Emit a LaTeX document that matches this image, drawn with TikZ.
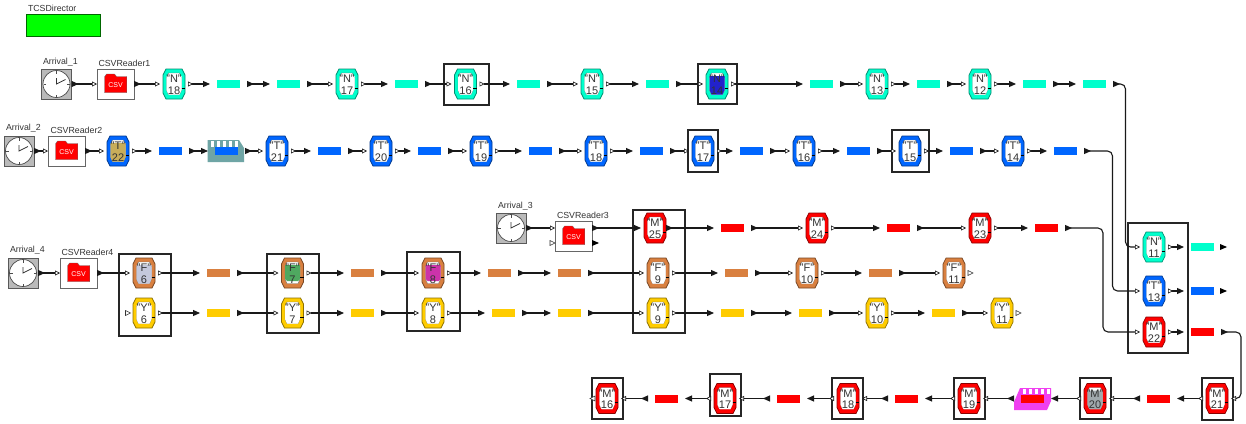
\documentclass[tikz,border=0pt]{standalone}
\usepackage{fontspec}
\setmainfont{Liberation Sans}
\usetikzlibrary{arrows.meta,calc}
\definecolor{cN}{HTML}{00FFCC}
\definecolor{cT}{HTML}{0066FF}
\definecolor{cM}{HTML}{FF0000}
\definecolor{cF}{HTML}{D98040}
\definecolor{cY}{HTML}{FFCC00}
\definecolor{txt}{HTML}{333333}
\definecolor{tan22}{HTML}{C8AD5A}
\definecolor{blue14}{HTML}{2222CC}
\definecolor{lav6}{HTML}{C4C8DC}
\definecolor{green7}{HTML}{4FA860}
\definecolor{mag8}{HTML}{CC33AA}
\definecolor{gray20}{HTML}{A0A8AC}
\definecolor{tealbuf}{HTML}{6FA5A5}
\definecolor{magbuf}{HTML}{F040F0}
\tikzset{
 every node/.style={inner sep=0pt,outer sep=0pt},
 tile anchor/.style={minimum width=22pt,minimum height=30pt},
 tile label/.style={align=center,text=txt,font=\fontsize{11}{11.5}\selectfont},
 frame box/.style={draw=black!85,line width=2pt},
 qbarstyle/.style={minimum width=23pt,minimum height=8pt},
 caption/.style={font=\fontsize{8.8}{10}\selectfont,text=txt,anchor=west},
 wire/.style={line width=1.1pt,black!90},
 barbar/.style={wire,{Triangle[length=7pt,width=6pt,reversed]}-{Triangle[length=7pt,width=6pt]},shorten <=7pt,shorten >=7pt},
 tilebar/.style={wire,{Triangle[open,length=5pt,width=5pt,fill=white,reversed,line width=.6pt]}-{Triangle[length=7pt,width=6pt]},shorten <=3pt,shorten >=7pt},
 bartile/.style={wire,{Triangle[length=7pt,width=6pt,reversed]}-{Triangle[open,length=5pt,width=5pt,fill=white,line width=.6pt]},shorten <=7pt,shorten >=3pt},
 srcbox/.style={wire,{Triangle[length=7pt,width=6pt,reversed]}-{Triangle[open,length=5pt,width=5pt,fill=white,line width=.6pt]}},
 srctile/.style={srcbox,shorten >=3pt},
 solid conn/.style={wire,{Triangle[length=7pt,width=6pt,reversed]}-{Triangle[length=7pt,width=6pt]}},
 bend wire/.style={rounded corners=5pt},
 lone port/.style={draw=black!80,fill=white,line width=.6pt},
 lone head/.style={fill=black},
}
% [fill bottom], name, x, y, label, number, colour, inner fill
\newcommand\tilebox[8][10.5]{%
 \node[tile anchor] (#2) at (#3,#4) {};
 \path[fill=#7,draw=#7!55!black,line width=.7pt] (#3-8,#4-15) -- (#3+8,#4-15) -- (#3+11,#4-9) -- (#3+11,#4+9) -- (#3+8,#4+15) -- (#3-8,#4+15) -- (#3-11,#4+9) -- (#3-11,#4-9) -- cycle;
 \path[fill=white,draw=black!55,line width=.4pt] (#3-5.5,#4-11) -- (#3+5.5,#4-11) -- (#3+7.5,#4-6) -- (#3+7.5,#4+6) -- (#3+5.5,#4+10.5) -- (#3-5.5,#4+10.5) -- (#3-7.5,#4+6) -- (#3-7.5,#4-6) -- cycle;
 \fill[#8] (#3-7.5,#4-8) -- (#3+7.5,#4-8) -- (#3+7.5,#4+6) -- (#3+5.5,#4+#1) -- (#3-5.5,#4+#1) -- (#3-7.5,#4+6) -- cycle;
 \node[tile label] (#2t) at (#3,#4+.5) {\rule{0pt}{7.8pt}#5\\#6};
 \draw[line width=.8pt,black] (#3+7.5,#4+4) -- (#3+11,#4+4);
}
\newcommand\qbar[4]{\node[qbarstyle,fill=#4] (#1) at (#2+11.5,#3) {};}
\newcommand\clockbox[3]{%
 \node[minimum width=30pt,minimum height=30pt,fill=black!27,draw=black!65,line width=.8pt] (#1) at (#2,#3) {};
 \draw[fill=white,draw=black!70,line width=.7pt] (#2,#3) circle (13.5pt);
 \draw[line width=.6pt,black!70] (#2,#3-13) -- (#2,#3-10.5) (#2,#3+13) -- (#2,#3+10.5) (#2-13,#3) -- (#2-10.5,#3) (#2+13,#3) -- (#2+10.5,#3);
 \draw[line width=.8pt,black!80] (#2,#3-6) -- (#2,#3) -- (#2+9,#3-4.5);
}
\newcommand\csvbox[3]{%
 \node[minimum width=37pt,minimum height=30pt,fill=white,draw=black!60,line width=.8pt] (#1) at (#2,#3) {};
 \fill[red,draw=black!60,line width=.3pt] (#2-11,#3+8.7) -- (#2-11,#3-7) -- (#2-9,#3-10) -- (#2-1,#3-10) -- (#2+1,#3-7.5) -- (#2+11.3,#3-7.5) -- (#2+11.3,#3+8.7) -- cycle;
 \node[text=white,font=\fontsize{7}{8}\selectfont] at (#2,#3+1) {CSV};
}
\newcommand\openport[2]{\path[lone port] (#1,#2-2.5) -- (#1+5,#2) -- (#1,#2+2.5) -- cycle;}
\newcommand\blackhead[2]{\path[lone head] (#1,#2-3) -- (#1+7,#2) -- (#1,#2+3) -- cycle;}
% name, left, top, right, bottom
\newcommand\fbx[5]{\draw[frame box] (#2,#3) rectangle (#4,#5) node[pos=.5] (#1) {};}
\begin{document}
\begin{tikzpicture}[x=1pt,y=-1pt]
\useasboundingbox (0,0) rectangle (1246,423);
\fill[white] (0,0) rectangle (1246,423);
% director
\node[caption] (dirlab) at (28,8) {TCSDirector};
\node[minimum width=74pt,minimum height=22pt,fill=green,draw=black!60!green,line width=.8pt] (director) at (63,25) {};
% row 1
\node[caption] (a1lab) at (43,62) {Arrival\_1};
\clockbox{a1}{56.5}{84}
\node[caption] (c1lab) at (98.5,63) {CSVReader1};
\csvbox{c1}{115.5}{84}
\tilebox{n18}{174}{84}{"N"}{18}{cN}{white}
\qbar{q1}{217}{84}{cN}
\qbar{q2}{277}{84}{cN}
\tilebox{n17}{347}{84}{"N"}{17}{cN}{white}
\qbar{q3}{395}{84}{cN}
\tilebox{n16}{465.5}{84}{"N"}{16}{cN}{white}
\qbar{q4}{517}{84}{cN}
\tilebox{n15}{592}{84}{"N"}{15}{cN}{white}
\qbar{q5}{646}{84}{cN}
\tilebox{n14}{717}{84}{"N"}{14}{cN}{blue14}
\qbar{q6}{810}{84}{cN}
\tilebox{n13}{877}{84}{"N"}{13}{cN}{white}
\qbar{q7}{917}{84}{cN}
\tilebox{n12}{980}{84}{"N"}{12}{cN}{white}
\qbar{q8}{1023}{84}{cN}
\qbar{q9}{1083}{84}{cN}
\fbx{fn16}{443.5}{63.5}{489}{105}
\fbx{fn14}{698}{64}{736.5}{104}
% row 2
\node[caption] (a2lab) at (6,128) {Arrival\_2};
\clockbox{a2}{19}{151}
\node[caption] (c2lab) at (50.5,130) {CSVReader2};
\csvbox{c2}{66.5}{151}
\tilebox{t22}{118}{151}{"T"}{22}{cT}{tan22}
\qbar{r1}{159}{151}{cT}
\path[fill=tealbuf] (207.5,140) -- (239,140) -- (244,148) -- (244,162) -- (207.5,162) -- cycle;
\foreach \tx in {211,217,223,229,235}{\fill[white] (\tx,141) rectangle (\tx+3,147);}
\qbar{r2}{215}{151}{cT}
\tilebox{t21}{277}{151}{"T"}{21}{cT}{white}
\qbar{r3}{318}{151}{cT}
\tilebox{t20}{381}{151}{"T"}{20}{cT}{white}
\qbar{r4}{418}{151}{cT}
\tilebox{t19}{481}{151}{"T"}{19}{cT}{white}
\qbar{r5}{529}{151}{cT}
\tilebox{t18}{596}{151}{"T"}{18}{cT}{white}
\qbar{r6}{640}{151}{cT}
\tilebox{t17}{703}{151}{"T"}{17}{cT}{white}
\qbar{r7}{740}{151}{cT}
\tilebox{t16}{804}{151}{"T"}{16}{cT}{white}
\qbar{r8}{847}{151}{cT}
\tilebox{t15}{910}{151}{"T"}{15}{cT}{white}
\qbar{r9}{950}{151}{cT}
\tilebox{t14}{1013}{151}{"T"}{14}{cT}{white}
\qbar{r10}{1054}{151}{cT}
\fbx{ft17}{688}{130}{718}{171.5}
\fbx{ft15}{891.5}{130}{929}{171.5}
% arrival 3
\node[caption] (a3lab) at (498,206) {Arrival\_3};
\clockbox{a3}{511}{228}
\node[caption] (c3lab) at (557,215) {CSVReader3};
\csvbox{c3}{573.5}{236}
\tilebox{m25}{655}{228}{"M"}{25}{cM}{white}
\qbar{s1}{721}{228}{cM}
\tilebox{m24}{817}{228}{"M"}{24}{cM}{white}
\qbar{s2}{887}{228}{cM}
\tilebox{m23}{980}{228}{"M"}{23}{cM}{white}
\qbar{s3}{1035}{228}{cM}
% arrival 4
\node[caption] (a4lab) at (10,250) {Arrival\_4};
\clockbox{a4}{23}{273}
\node[caption] (c4lab) at (61.5,252) {CSVReader4};
\csvbox{c4}{78.5}{273}
\tilebox{f6}{144}{273}{"F"}{6}{cF}{lav6}
\tilebox{y6}{144}{313}{"Y"}{6}{cY}{white}
\qbar{u1}{207}{273}{cF}
\qbar{v1}{207}{313}{cY}
\tilebox[8]{f7}{292.5}{273}{"F"}{7}{cF}{green7}
\tilebox{y7}{292.5}{313}{"Y"}{7}{cY}{white}
\qbar{u2}{351}{273}{cF}
\qbar{v2}{351}{313}{cY}
\tilebox[8]{f8}{433}{273}{"F"}{8}{cF}{mag8}
\tilebox{y8}{433}{313}{"Y"}{8}{cY}{white}
\qbar{u3}{488}{273}{cF}
\qbar{v3}{492}{313}{cY}
\qbar{u4}{558}{273}{cF}
\qbar{v4}{558}{313}{cY}
\tilebox{f9}{658}{273}{"F"}{9}{cF}{white}
\tilebox{y9}{658}{313}{"Y"}{9}{cY}{white}
\qbar{u5}{725}{273}{cF}
\qbar{v5}{721}{313}{cY}
\tilebox{f10}{807}{273}{"F"}{10}{cF}{white}
\qbar{v6}{799}{313}{cY}
\qbar{u6}{869}{273}{cF}
\tilebox{y10}{877}{313}{"Y"}{10}{cY}{white}
\qbar{v7}{932}{313}{cY}
\tilebox{f11}{954}{273}{"F"}{11}{cF}{white}
\tilebox{y11}{1002}{313}{"Y"}{11}{cY}{white}
\fbx{f6b}{118.5}{254}{171}{336}
\fbx{f7b}{266.5}{254}{319}{333}
\fbx{f8b}{407}{252}{459.5}{331}
\fbx{f9b}{632.5}{209.5}{685}{333}
% right column
\tilebox{n11}{1154}{247}{"N"}{11}{cN}{white}
\tilebox{t13}{1154}{291}{"T"}{13}{cT}{white}
\tilebox{m22}{1154}{332}{"M"}{22}{cM}{white}
\qbar{w1}{1191}{247}{cN}
\qbar{w2}{1191}{291}{cT}
\qbar{w3}{1191}{332}{cM}
\fbx{frb}{1128}{223}{1188}{353}
% bottom row
\tilebox{m21}{1217}{398.5}{"M"}{21}{cM}{white}
\qbar{b1}{1147}{398.5}{cM}
\tilebox{m20}{1095}{398.5}{"M"}{20}{cM}{gray20}
\path[fill=magbuf] (1020,388) -- (1051,388) -- (1051,401) -- (1047,410) -- (1014,410) -- (1014,402) -- cycle;
\foreach \tx in {1023,1029,1035,1041,1047}{\fill[white] (\tx,389) rectangle (\tx+3,394);}
\qbar{b2}{1021}{398.5}{cM}
\tilebox{m19}{969}{398.5}{"M"}{19}{cM}{white}
\qbar{b3}{895}{398.5}{cM}
\tilebox{m18}{848}{398.5}{"M"}{18}{cM}{white}
\qbar{b4}{777}{398.5}{cM}
\tilebox{m17}{725}{398.5}{"M"}{17}{cM}{white}
\qbar{b5}{655}{398.5}{cM}
\tilebox{m16}{607}{398.5}{"M"}{16}{cM}{white}
\fbx{fm21}{1202}{378}{1233}{420}
\fbx{fm20}{1080}{378}{1110.5}{419}
\fbx{fm19}{954}{378}{985}{419}
\fbx{fm18}{832}{378}{863}{419}
\fbx{fm17}{710}{374}{741}{416}
\fbx{fm16}{592}{378}{623}{419}
% connectors row 1
\draw[srcbox] (a1) -- (c1);
\draw[srctile] (c1) -- (n18);
\draw[tilebar] (n18) -- (q1);
\draw[barbar] (q1) -- (q2);
\draw[bartile] (q2) -- (n17);
\draw[tilebar] (n17) -- (q3);
\draw[bartile] (q3) -- (n16);
\draw[tilebar] (n16) -- (q4);
\draw[bartile] (q4) -- (n15);
\draw[tilebar] (n15) -- (q5);
\draw[bartile] (q5) -- (n14);
\draw[tilebar] (n14) -- (q6);
\draw[bartile] (q6) -- (n13);
\draw[tilebar] (n13) -- (q7);
\draw[bartile] (q7) -- (n12);
\draw[tilebar] (n12) -- (q8);
\draw[barbar] (q8) -- (q9);
\coordinate (k1) at (1125.5,84);
\draw[bartile,bend wire] (q9) -- (k1) |- (n11);
% connectors row 2
\draw[srcbox] (a2) -- (c2);
\draw[srctile] (c2) -- (t22);
\draw[tilebar] (t22) -- (r1);
\draw[barbar] (r1) -- (r2);
\draw[bartile] (r2) -- (t21);
\draw[tilebar] (t21) -- (r3);
\draw[bartile] (r3) -- (t20);
\draw[tilebar] (t20) -- (r4);
\draw[bartile] (r4) -- (t19);
\draw[tilebar] (t19) -- (r5);
\draw[bartile] (r5) -- (t18);
\draw[tilebar] (t18) -- (r6);
\draw[bartile] (r6) -- (t17);
\draw[tilebar] (t17) -- (r7);
\draw[bartile] (r7) -- (t16);
\draw[tilebar] (t16) -- (r8);
\draw[bartile] (r8) -- (t15);
\draw[tilebar] (t15) -- (r9);
\draw[bartile] (r9) -- (t14);
\draw[tilebar] (t14) -- (r10);
\coordinate (k2) at (1112.5,151);
\draw[bartile,bend wire] (r10) -- (k2) |- (t13);
% connectors M row
\coordinate (c3in) at (555,228);
\coordinate (c3out) at (592,228);
\draw[srcbox] (a3) -- (c3in);
\draw[solid conn,shorten >=3pt] (c3out) -- (m25);
\draw[solid conn,shorten >=7pt] (m25) -- (s1);
\draw[bartile] (s1) -- (m24);
\draw[tilebar] (m24) -- (s2);
\draw[bartile] (s2) -- (m23);
\draw[tilebar] (m23) -- (s3);
\coordinate (k3) at (1103,228);
\draw[bartile,bend wire] (s3) -- (k3) |- (m22);
% connectors F and Y rows
\draw[srcbox] (a4) -- (c4);
\draw[srctile] (c4) -- (f6);
\draw[tilebar] (f6) -- (u1);
\draw[tilebar] (y6) -- (v1);
\draw[bartile] (u1) -- (f7);
\draw[bartile] (v1) -- (y7);
\draw[tilebar] (f7) -- (u2);
\draw[tilebar] (y7) -- (v2);
\draw[bartile] (u2) -- (f8);
\draw[bartile] (v2) -- (y8);
\draw[tilebar] (f8) -- (u3);
\draw[tilebar] (y8) -- (v3);
\draw[barbar] (u3) -- (u4);
\draw[barbar] (v3) -- (v4);
\draw[bartile] (u4) -- (f9);
\draw[bartile] (v4) -- (y9);
\draw[tilebar] (f9) -- (u5);
\draw[tilebar] (y9) -- (v5);
\draw[bartile] (u5) -- (f10);
\draw[barbar] (v5) -- (v6);
\draw[tilebar] (f10) -- (u6);
\draw[bartile] (v6) -- (y10);
\draw[bartile] (u6) -- (f11);
\draw[tilebar] (y10) -- (v7);
\draw[bartile] (v7) -- (y11);
% right column out
\draw[tilebar] (n11) -- (w1);
\draw[tilebar] (t13) -- (w2);
\draw[tilebar] (m22) -- (w3);
\coordinate (k4) at (1241,332);
\draw[bartile,bend wire] (w3) -- (k4) |- (m21);
% bottom row connectors
\draw[tilebar] (m21) -- (b1);
\draw[bartile] (b1) -- (m20);
\draw[tilebar] (m20) -- (b2);
\draw[bartile] (b2) -- (m19);
\draw[tilebar] (m19) -- (b3);
\draw[bartile] (b3) -- (m18);
\draw[tilebar] (m18) -- (b4);
\draw[bartile] (b4) -- (m17);
\draw[tilebar] (m17) -- (b5);
\draw[bartile] (b5) -- (m16);
% unconnected ports
\openport{125.5}{313}
\openport{968}{273}
\openport{1016}{313}
\openport{550}{243}
\blackhead{592}{243}
\blackhead{1220}{247}
\blackhead{1220}{291}
\path[lone port] (595,398.5-2.5) -- (590,398.5) -- (595,398.5+2.5) -- cycle;
\end{tikzpicture}
\end{document}
